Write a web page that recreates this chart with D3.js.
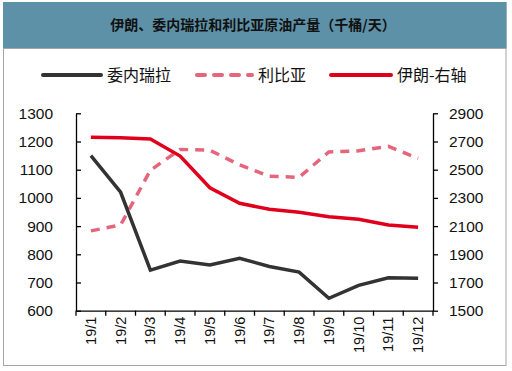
<!DOCTYPE html>
<html>
<head>
<meta charset="utf-8">
<script src="https://cdn.jsdelivr.net/npm/d3@7"></script>
<style>
  body { margin: 0; background: #fff; }
  svg { display: block; }
</style>
</head>
<body>
<div id="chart"></div>
<script>
// Data
const months = ['19/1', '19/2', '19/3', '19/4', '19/5', '19/6', '19/7', '19/8', '19/9', '19/10', '19/11', '19/12'];
const venezuela = [1150, 1020, 744, 776, 762, 786, 757, 737, 644, 690, 717, 715];
const libya = [883, 904, 1098, 1172, 1169, 1117, 1077, 1073, 1163, 1167, 1183, 1140];
const iran = [2730, 2727, 2718, 2597, 2372, 2262, 2219, 2198, 2167, 2148, 2108, 2091];
const leftTicks = [600, 700, 800, 900, 1000, 1100, 1200, 1300];
const rightTicks = [1500, 1700, 1900, 2100, 2300, 2500, 2700, 2900];

const title = '伊朗、委内瑞拉和利比亚原油产量（千桶/天）';
const legendItems = [
    { name: '委内瑞拉', color: '#333333', dash: null, x: 43, len: 58 },
    { name: '利比亚', color: '#e5667c', dash: '8,9', x: 197, len: 55 },
    { name: '伊朗-右轴', color: '#e0001b', dash: null, x: 331, len: 60 }
];

const width = 512, height = 371;
const margin = { left: 76, right: 433, top: 113.3, bottom: 310.7 };
const tickFont = '"Liberation Sans", Arial, sans-serif';
const cjkFont = '"Noto Sans CJK SC", sans-serif';

const svg = d3.select('#chart')
    .append('svg')
    .attr('width', width)
    .attr('height', height);

// Frame and title bar
svg.append('rect')
    .attr('x', 3.5).attr('y', 2.5)
    .attr('width', 502.5).attr('height', 363)
    .attr('fill', '#fff')
    .attr('stroke', '#a6a6a6')
    .attr('stroke-width', 1);

svg.append('rect')
    .attr('x', 3).attr('y', 2)
    .attr('width', 503.5).attr('height', 46)
    .attr('fill', '#5d91a7');

svg.append('line')
    .attr('x1', 3).attr('x2', 506.5)
    .attr('y1', 48.5).attr('y2', 48.5)
    .attr('stroke', '#a6a6a6');

svg.append('text')
    .attr('x', 253).attr('y', 30)
    .attr('text-anchor', 'middle')
    .attr('font-family', cjkFont)
    .attr('font-weight', 'bold')
    .attr('font-size', 14)
    .attr('fill', '#111')
    .text(title);

// Legend
const legend = svg.append('g');
legendItems.forEach(item => {
    legend.append('line')
        .attr('x1', item.x).attr('x2', item.x + item.len)
        .attr('y1', 75).attr('y2', 75)
        .attr('stroke', item.color)
        .attr('stroke-width', 4)
        .attr('stroke-linecap', 'round')
        .attr('stroke-dasharray', item.dash);
    legend.append('text')
        .attr('x', item.x + item.len + 6).attr('y', 81)
        .attr('font-family', cjkFont)
        .attr('font-size', 16)
        .attr('fill', '#111')
        .text(item.name);
});

// Scales
const x = d3.scaleBand().domain(months).range([margin.left, margin.right]);
const yLeft = d3.scaleLinear().domain([600, 1300]).range([margin.bottom, margin.top]);
const yRight = d3.scaleLinear().domain([1500, 2900]).range([margin.bottom, margin.top]);

// Axes
const fmt = d3.format('d');
const leftAxis = svg.append('g')
    .attr('transform', `translate(${margin.left},0)`)
    .call(d3.axisLeft(yLeft).tickValues(leftTicks).tickFormat(fmt).tickSizeInner(-5).tickSizeOuter(0).tickPadding(23));

const rightAxis = svg.append('g')
    .attr('transform', `translate(${margin.right},0)`)
    .call(d3.axisRight(yRight).tickValues(rightTicks).tickFormat(fmt).tickSizeInner(5).tickSizeOuter(0).tickPadding(11));

const bottomAxis = svg.append('g')
    .attr('transform', `translate(0,${margin.bottom})`)
    .call(d3.axisBottom(x).tickSize(0).tickPadding(0));

[leftAxis, rightAxis, bottomAxis].forEach(g => {
    g.select('.domain').attr('stroke', '#000').attr('stroke-width', 1.3);
    g.selectAll('.tick line').attr('stroke', '#000').attr('stroke-width', 1.3);
    g.selectAll('text')
        .attr('font-family', tickFont)
        .attr('font-size', 15.5)
        .attr('fill', '#111');
});

// Category boundary ticks on the x axis
svg.append('g')
    .selectAll('line')
    .data(d3.range(months.length + 1))
    .join('line')
    .attr('x1', i => margin.left + i * x.bandwidth())
    .attr('x2', i => margin.left + i * x.bandwidth())
    .attr('y1', margin.bottom)
    .attr('y2', margin.bottom + 5)
    .attr('stroke', '#000')
    .attr('stroke-width', 1.3);

bottomAxis.selectAll('text')
    .attr('font-size', 14.5)
    .attr('text-anchor', 'end')
    .attr('dy', '0.35em')
    .attr('transform', 'translate(0,6) rotate(-90)');

// Lines
const lineLeft = d3.line()
    .x((d, i) => x(months[i]) + x.bandwidth() / 2)
    .y(d => yLeft(d));
const lineRight = d3.line()
    .x((d, i) => x(months[i]) + x.bandwidth() / 2)
    .y(d => yRight(d));

svg.append('path')
    .datum(libya)
    .attr('d', lineLeft)
    .attr('fill', 'none')
    .attr('stroke', '#e5667c')
    .attr('stroke-width', 3.5)
    .attr('stroke-dasharray', '9,7');

svg.append('path')
    .datum(iran)
    .attr('d', lineRight)
    .attr('fill', 'none')
    .attr('stroke', '#e0001b')
    .attr('stroke-width', 3.5);

svg.append('path')
    .datum(venezuela)
    .attr('d', lineLeft)
    .attr('fill', 'none')
    .attr('stroke', '#333333')
    .attr('stroke-width', 3.5);
</script>
</body>
</html>
